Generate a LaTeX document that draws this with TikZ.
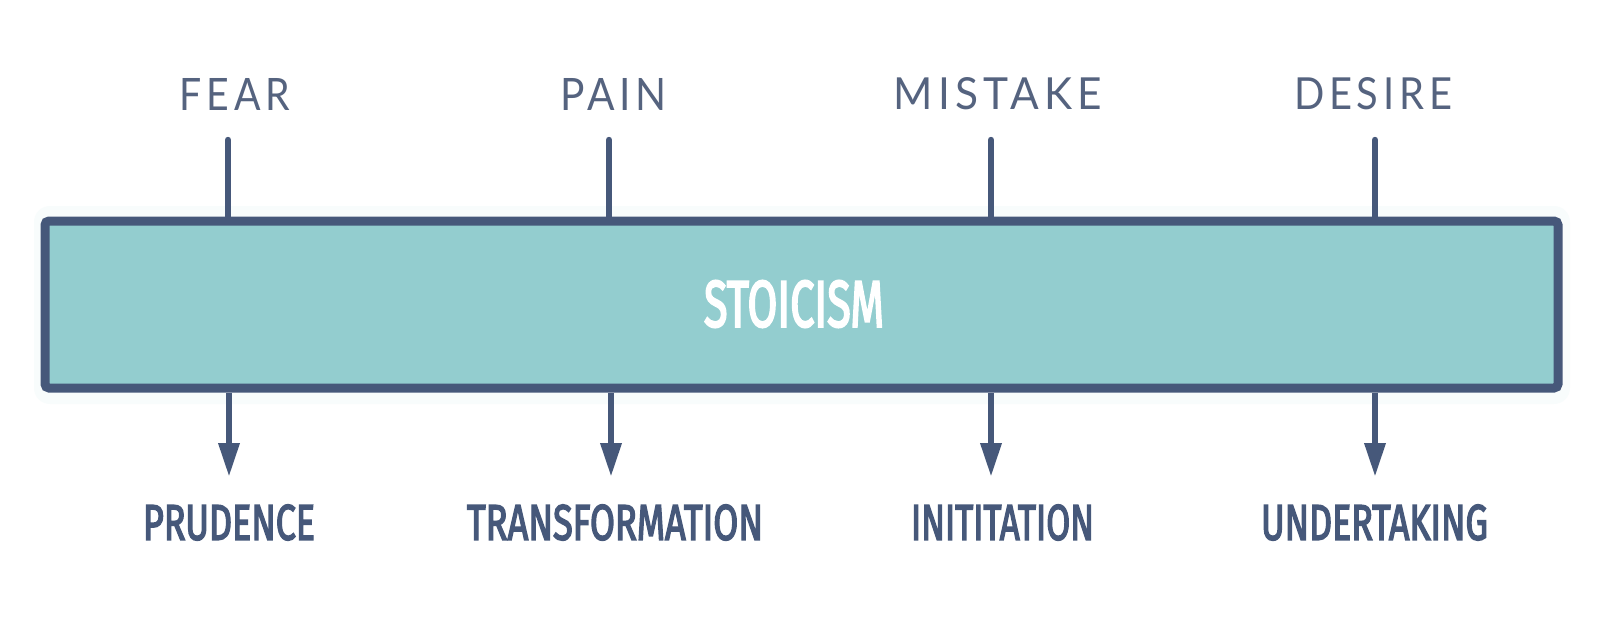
\documentclass[tikz,border=0pt]{standalone}
\usepackage{graphicx}
\usepackage{fontspec}
\usetikzlibrary{arrows.meta}
\newfontfamily\toplabelfont[LetterSpace=12]{Lato}
\newfontfamily\condfont[FakeBold=3.5]{Fira Sans}
\definecolor{ink}{HTML}{46587A}
\definecolor{inklight}{HTML}{55637F}
\definecolor{boxfill}{HTML}{93CDCF}
\tikzset{
  stoabox/.style={draw=ink, line width=4.5pt, fill=boxfill, rounded corners=2pt, inner sep=0pt,
    minimum width=756.5pt, minimum height=83.5pt},
  toplabel/.style={text=inklight, inner sep=0pt},
  botlabel/.style={text=ink, inner sep=0pt},
  feeder/.style={draw=ink, line width=3.2pt, line cap=round},
  outflow/.style={draw=ink, line width=3.2pt, -{Triangle[width=10pt,length=17pt]}},
}
\begin{document}
\begin{tikzpicture}[x=0.5pt,y=-0.5pt]
\useasboundingbox[fill=white] (0,0) rectangle (1600,621);
% faint halo
\fill[boxfill, opacity=0.06, rounded corners=8pt] (34,206) rectangle (1570,404);
\node[stoabox] (box) at (801.5,304.5) {};
\node[text=white, inner sep=0pt] (stoic) at (794,304) {\resizebox{90pt}{23pt}{\condfont STOICISM}};
% top labels
\node[toplabel] (fear) at (235,94) {\resizebox{55pt}{16pt}{\toplabelfont FEAR}};
\node[toplabel] (pain) at (613.5,94) {\resizebox{53.5pt}{16pt}{\toplabelfont PAIN}};
\node[toplabel] (mist) at (998,94) {\resizebox{104pt}{16pt}{\toplabelfont MISTAKE}};
\node[toplabel] (desi) at (1373,94) {\resizebox{79pt}{16pt}{\toplabelfont DESIRE}};
% bottom labels
\node[botlabel] (prud) at (229,522.5) {\resizebox{86pt}{17.5pt}{\condfont PRUDENCE}};
\node[botlabel] (tran) at (615,522.5) {\resizebox{148pt}{17.5pt}{\condfont TRANSFORMATION}};
\node[botlabel] (init) at (1002.5,522.5) {\resizebox{91.5pt}{17.5pt}{\condfont INITITATION}};
\node[botlabel] (unde) at (1374.5,522.5) {\resizebox{113.5pt}{17.5pt}{\condfont UNDERTAKING}};
% connector ends
\coordinate (t1) at (228,140);
\coordinate (t2) at (609,140);
\coordinate (t3) at (991,140);
\coordinate (t4) at (1375,140);
\coordinate (b1) at (229,477);
\coordinate (b2) at (611,477);
\coordinate (b3) at (991,477);
\coordinate (b4) at (1375,477);
\foreach \i in {1,2,3,4}{
  \draw[feeder] (t\i) -- (t\i |- box.north);
  \draw[outflow] (b\i |- box.south) -- (b\i);
}
\end{tikzpicture}
\end{document}
